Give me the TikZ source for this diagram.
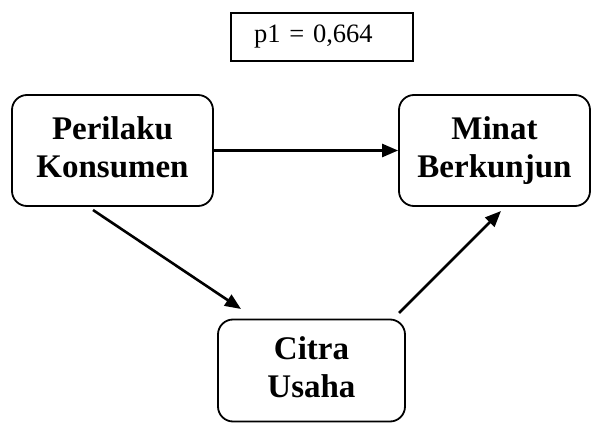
\documentclass[tikz,border=0pt]{standalone}
\usepackage{fontspec}
\setmainfont{Liberation Serif}
\usetikzlibrary{arrows.meta}
\begin{document}
\begin{tikzpicture}[x=1pt,y=-1pt,
  varbox/.style={draw=black, line width=1.8pt, rounded corners=15pt, align=center,
    font=\fontsize{33}{38}\selectfont\bfseries, inner sep=0pt},
  coefbox/.style={draw=black, line width=1.6pt, font=\fontsize{26.5}{30}\selectfont,
    inner ysep=0pt, inner xsep=23pt, text width=136pt, align=left},
  link/.style={line width=2.6pt, -{Triangle[length=16pt,width=13pt]}}]
\useasboundingbox (0,0) rectangle (598,423);
\node[coefbox, minimum height=48pt] (p1) at (322,37) {p1 = 0,664};
\node[varbox, minimum width=201pt, minimum height=111pt] (pk) at (112.5,150.5) {Perilaku\strut\\Konsumen\strut};
\node[varbox, minimum width=191pt, minimum height=111pt] (mb) at (494.5,150.5) {Minat\strut\\Berkunjun\strut};
\node[varbox, minimum width=187pt, minimum height=102pt] (cu) at (311.5,370.5) {Citra\strut\\Usaha\strut};
\coordinate (s1) at (93,210);
\coordinate (e1) at (241,309);
\coordinate (s2) at (399,313);
\coordinate (e2) at (501,211);
\draw[link] (pk.east) -- (mb.west);
\draw[link] (s1) -- (e1);
\draw[link] (s2) -- (e2);
\end{tikzpicture}
\end{document}
